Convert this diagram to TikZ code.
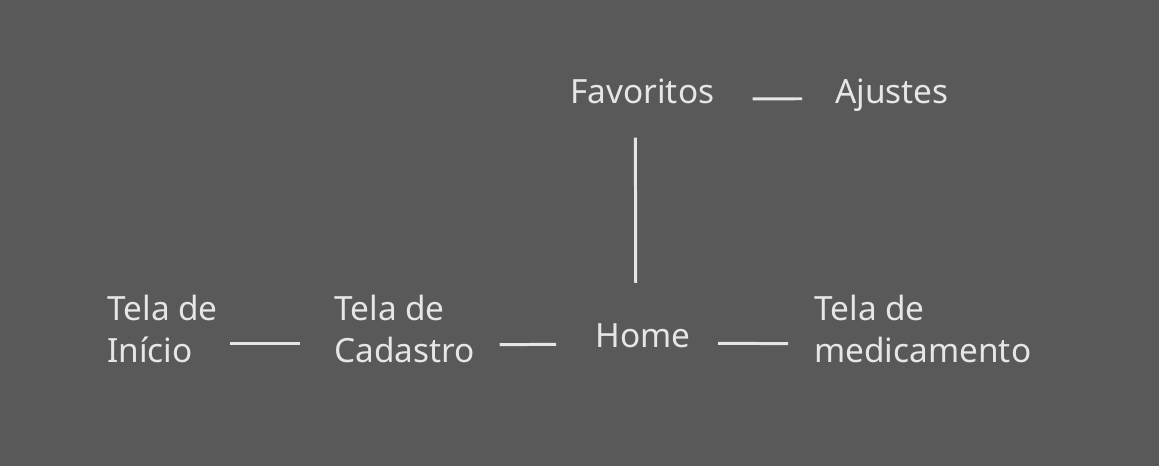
\documentclass[tikz,border=0pt]{standalone}
\usepackage{fontspec}
\setmainfont{Noto Sans}
\usetikzlibrary{positioning}
\definecolor{bg}{HTML}{595959}
\definecolor{ink}{HTML}{E6E6E6}

\begin{document}
\begin{tikzpicture}[x=0.02cm, y=-0.02cm,
  screen/.style={text=ink, inner sep=0pt, align=left, font=\fontsize{19}{23.9}\selectfont},
  link/.style={draw=ink, line width=1.7pt}]
  % Background
  \fill[bg] (0,0) rectangle (1159,466);

  % Screens
  \node[screen, anchor=north west] (inicio) at (107,295) {Tela de\\Início};
  \node[screen, anchor=north west] (cadastro) at (334,295) {Tela de\\Cadastro};
  \node[screen, anchor=base west] (home) at (595,347) {Home};
  \node[screen, anchor=north west] (medicamento) at (814,295) {Tela de\\medicamento};
  \node[screen, anchor=base west] (favoritos) at (570,104) {Favoritos};
  \node[screen, anchor=base west] (ajustes) at (835,104) {Ajustes};

  % Links
  \draw[link, shorten <=0.24cm, shorten >=0.68cm] ([yshift=-0.29cm]inicio.east) -- ([yshift=-0.29cm]cadastro.west);
  \draw[link, shorten <=0.49cm, shorten >=0.78cm] ([yshift=-0.31cm]cadastro.east) -- ([yshift=-0.18cm]home.west);
  \draw[link, shorten <=0.55cm, shorten >=0.52cm] ([yshift=-0.16cm]home.east) -- ([yshift=-0.29cm]medicamento.west);
  \draw[link, shorten <=0.76cm, shorten >=0.66cm] ([yshift=-0.14cm]favoritos.east) -- ([yshift=-0.06cm]ajustes.west);
  \draw[link, shorten <=0.66cm, shorten >=0.80cm] ([xshift=-0.14cm]favoritos.south) -- ([xshift=-0.14cm]home.north);
\end{tikzpicture}
\end{document}
